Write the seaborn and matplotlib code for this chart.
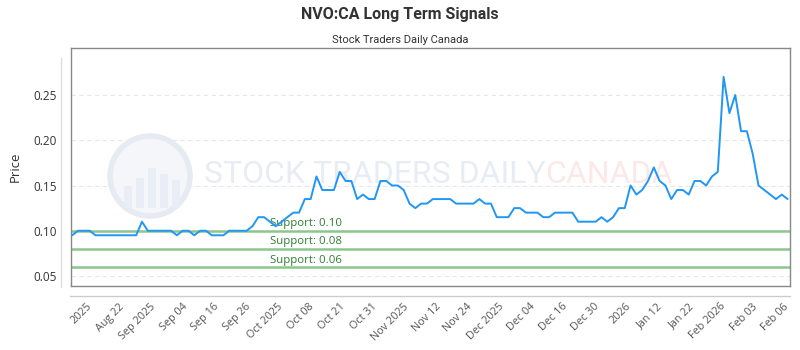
import numpy as np
import pandas as pd
import matplotlib
matplotlib.use("Agg")
import matplotlib.pyplot as plt
import seaborn as sns
from matplotlib.patches import Ellipse, Rectangle
from matplotlib.lines import Line2D

# ===== data =====
PRICE = [
    0.095, 0.10, 0.10, 0.10, 0.095, 0.095, 0.095, 0.095, 0.095, 0.095,
    0.095, 0.095, 0.11, 0.10, 0.10, 0.10, 0.10, 0.10, 0.095, 0.10,
    0.10, 0.095, 0.10, 0.10, 0.095, 0.095, 0.095, 0.10, 0.10, 0.10,
    0.10, 0.105, 0.115, 0.115, 0.11, 0.105, 0.11, 0.115, 0.12, 0.12,
    0.135, 0.135, 0.16, 0.145, 0.145, 0.145, 0.165, 0.155, 0.155, 0.135,
    0.14, 0.135, 0.135, 0.155, 0.155, 0.15, 0.15, 0.145, 0.13, 0.125,
    0.13, 0.13, 0.135, 0.135, 0.135, 0.135, 0.13, 0.13, 0.13, 0.13,
    0.135, 0.13, 0.13, 0.115, 0.115, 0.115, 0.125, 0.125, 0.12, 0.12,
    0.12, 0.115, 0.115, 0.12, 0.12, 0.12, 0.12, 0.11, 0.11, 0.11,
    0.11, 0.115, 0.11, 0.115, 0.125, 0.125, 0.15, 0.14, 0.145, 0.155,
    0.17, 0.155, 0.15, 0.135, 0.145, 0.145, 0.14, 0.155, 0.155, 0.15,
    0.16, 0.165, 0.27, 0.23, 0.25, 0.21, 0.21, 0.185, 0.15, 0.145,
    0.14, 0.135, 0.14, 0.135,
]

TICK_LABELS = [
    "2025", "Aug 22", "Sep 2025", "Sep 04", "Sep 16", "Sep 26", "Oct 2025",
    "Oct 08", "Oct 21", "Oct 31", "Nov 2025", "Nov 12", "Nov 24", "Dec 2025",
    "Dec 04", "Dec 16", "Dec 30", "2026", "Jan 12", "Jan 22", "Feb 2026",
    "Feb 03", "Feb 06",
]

SUPPORT_LEVELS = [0.10, 0.08, 0.06]
Y_TICKS = [0.05, 0.10, 0.15, 0.20, 0.25]

TITLE = "NVO:CA Long Term Signals"
SUBTITLE = "Stock Traders Daily Canada"

df = pd.DataFrame({"idx": np.arange(len(PRICE)), "Price": PRICE})

# ===== figure =====
sns.set_style("white")
plt.rcParams["font.family"] = ["Open Sans", "DejaVu Sans"]

fig = plt.figure(figsize=(8, 3.5), dpi=100)
ax = fig.add_axes([0.0884, 0.183, 0.899, 0.68])

# watermark (logo circle + faint bars + text)
wm_font = ["Roboto", "DejaVu Sans"]
ax.text(0.185, 0.47, "STOCK TRADERS DAILY", transform=ax.transAxes,
        fontsize=23, color="#e8ecf4", family=wm_font,
        ha="left", va="center", zorder=0)
ax.text(0.66, 0.47, "CANADA", transform=ax.transAxes,
        fontsize=23, color="#fde8e8", family=wm_font,
        ha="left", va="center", zorder=0)
logo = Ellipse((150 / 800, 1 - 176 / 350), 80 / 800, 80 / 350,
               transform=fig.transFigure, facecolor="#f4f6fa",
               edgecolor="#e6ebf3", linewidth=4, zorder=0)
fig.patches.append(logo)
for bx, bh in [(124, 22), (136, 30), (148, 40), (160, 34), (172, 28)]:
    fig.patches.append(Rectangle((bx / 800, 1 - 208 / 350), 8 / 800, bh / 350,
                                 transform=fig.transFigure,
                                 facecolor="#e9eef6", edgecolor="none", zorder=0))

# grid
for y in Y_TICKS:
    ax.axhline(y, color="#e6e6e6", linewidth=0.8, linestyle=(0, (4, 3)), zorder=1)

# support lines
for lvl in SUPPORT_LEVELS:
    ax.axhline(lvl, color="#8cc68c", linewidth=1.8, zorder=2)
    ax.text(34, lvl + 0.0015, f"Support: {lvl:.2f}", color="#2e7d32",
            fontsize=8.2, ha="left", va="bottom", zorder=3)

sns.lineplot(data=df, x="idx", y="Price", ax=ax, color="#2196f3",
             linewidth=1.4, zorder=4)

ax.set_xlim(-0.25, len(PRICE) - 0.6)
ax.set_ylim(0.039, 0.302)
ax.set_yticks(Y_TICKS)
ax.set_yticklabels([f"{v:.2f}" for v in Y_TICKS], fontsize=8.5, color="#333333")
ax.set_ylabel("Price", fontsize=9.5, color="#333333", labelpad=8)
ax.set_xlabel("")

tick_pos = np.linspace(2.5, 122.3, len(TICK_LABELS))
ax.set_xticks(tick_pos)
ax.set_xticklabels(TICK_LABELS, rotation=45, ha="right", rotation_mode="anchor",
                   fontsize=7.8, color="#555555")
ax.tick_params(axis="x", length=0, pad=11)
ax.tick_params(axis="y", length=0, pad=10)

for s in ax.spines.values():
    s.set_color("#888888")
    s.set_linewidth(1.0)

# light navigator line below plot and light line on the left
fig.add_artist(Line2D([70 / 800, 790 / 800], [1 - 296 / 350] * 2,
                      transform=fig.transFigure, color="#cccccc", linewidth=1))
fig.add_artist(Line2D([61 / 800] * 2, [1 - 287 / 350, 1 - 58 / 350],
                      transform=fig.transFigure, color="#dddddd", linewidth=1))

fig.text(0.5, 1 - 15 / 350, TITLE, ha="center", va="center", fontsize=11.5,
         fontweight="bold", color="#333333", family=["Roboto", "DejaVu Sans"])
fig.text(0.5, 1 - 40 / 350, SUBTITLE, ha="center", va="center", fontsize=8,
         color="#333333", family=["Roboto", "DejaVu Sans"])

fig.savefig("out.png", dpi=100)
